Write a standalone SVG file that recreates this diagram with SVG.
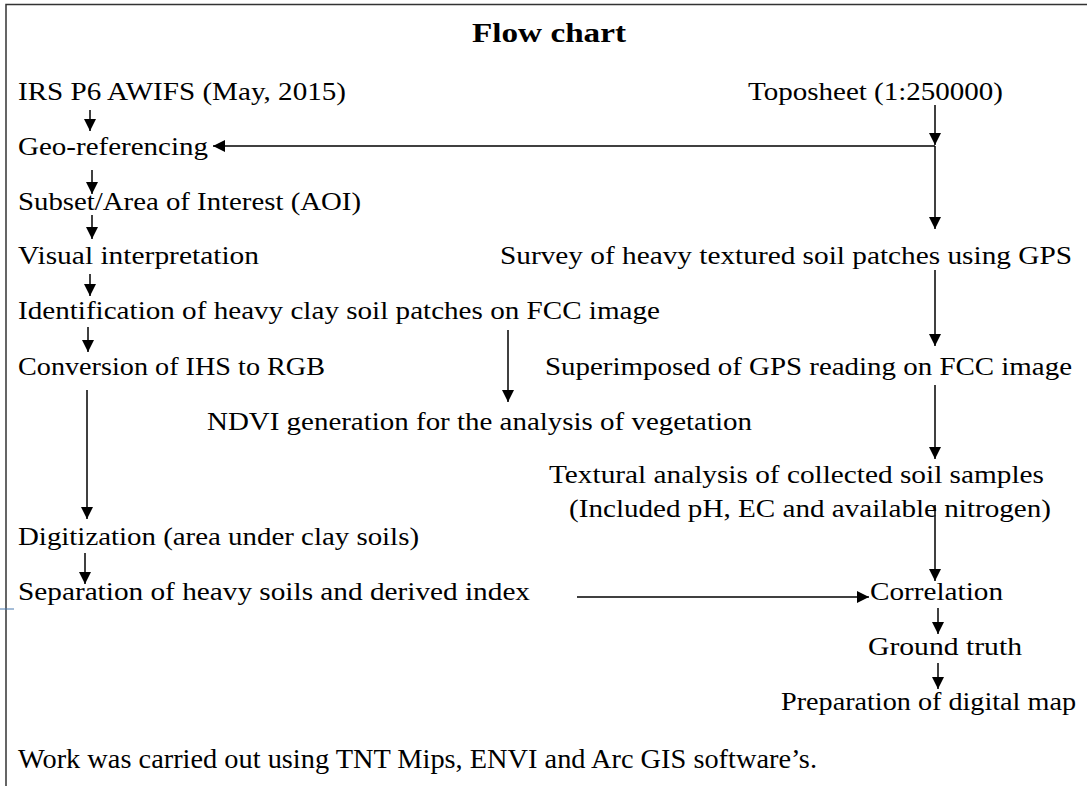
<svg xmlns="http://www.w3.org/2000/svg" width="1087" height="786" viewBox="0 0 1087 786">
<style>
.c{stroke:#000;stroke-width:1.5;fill:none}
</style>
<defs>
<marker id="ah" viewBox="0 0 12 12" refX="12" refY="6" markerWidth="13" markerHeight="12" markerUnits="userSpaceOnUse" orient="auto">
<path d="M0,0 L12,6 L0,12 Z" fill="#000"/>
</marker>
</defs>
<rect width="1087" height="786" fill="#fff"/>
<path d="M6,786 V4.5 H1087" stroke="#333" stroke-width="1.5" fill="none"/>
<path d="M0,609 H14" stroke="#4a7ab0" stroke-width="1"/>
<g font-family="'Liberation Serif', 'Times New Roman', serif" font-size="26" fill="#000">
<text x="549" y="42" text-anchor="middle" font-weight="bold" font-size="27" textLength="154" lengthAdjust="spacingAndGlyphs">Flow chart</text>
<g id="n-irs"><text x="18" y="100" textLength="328" lengthAdjust="spacingAndGlyphs">IRS P6 AWIFS (May, 2015)</text></g>
<g id="n-topo"><text x="748" y="100" textLength="255" lengthAdjust="spacingAndGlyphs">Toposheet (1:250000)</text></g>
<g id="n-geo"><text x="18" y="155" textLength="190" lengthAdjust="spacingAndGlyphs">Geo-referencing</text></g>
<g id="n-subset"><text x="18" y="210" textLength="343" lengthAdjust="spacingAndGlyphs">Subset/Area of Interest (AOI)</text></g>
<g id="n-visual"><text x="18" y="264" textLength="241" lengthAdjust="spacingAndGlyphs">Visual interpretation</text></g>
<g id="n-survey"><text x="500" y="264" textLength="572" lengthAdjust="spacingAndGlyphs">Survey of heavy textured soil patches using GPS</text></g>
<g id="n-ident"><text x="18" y="319" textLength="642" lengthAdjust="spacingAndGlyphs">Identification of heavy clay soil patches on FCC image</text></g>
<g id="n-conv"><text x="18" y="375" textLength="307" lengthAdjust="spacingAndGlyphs">Conversion of IHS to RGB</text></g>
<g id="n-super"><text x="545" y="375" textLength="527" lengthAdjust="spacingAndGlyphs">Superimposed of GPS reading on FCC image</text></g>
<g id="n-ndvi"><text x="207" y="430" textLength="545" lengthAdjust="spacingAndGlyphs">NDVI generation for the analysis of vegetation</text></g>
<g id="n-text"><text x="549" y="483" textLength="495" lengthAdjust="spacingAndGlyphs">Textural analysis of collected soil samples</text>
<text x="569" y="517" textLength="482" lengthAdjust="spacingAndGlyphs">(Included pH, EC and available nitrogen)</text></g>
<g id="n-digit"><text x="18" y="545" textLength="401" lengthAdjust="spacingAndGlyphs">Digitization (area under clay soils)</text></g>
<g id="n-sep"><text x="18" y="600" textLength="512" lengthAdjust="spacingAndGlyphs">Separation of heavy soils and derived index</text></g>
<g id="n-corr"><text x="870" y="600" textLength="133" lengthAdjust="spacingAndGlyphs">Correlation</text></g>
<g id="n-ground"><text x="868" y="655" textLength="154" lengthAdjust="spacingAndGlyphs">Ground truth</text></g>
<g id="n-prep"><text x="781" y="710" textLength="295" lengthAdjust="spacingAndGlyphs">Preparation of digital map</text></g>
<text x="18" y="768" font-size="27" textLength="799" lengthAdjust="spacingAndGlyphs">Work was carried out using TNT Mips, ENVI and Arc GIS software’s.</text>
</g>
<g id="connectors" class="c" marker-end="url(#ah)">
<path d="M90,110 V131"/>
<path d="M935,105 V145"/>
<path d="M935,146 V229"/>
<path d="M935,146 H213"/>
<path d="M92,170 V194"/>
<path d="M92,215 V239"/>
<path d="M90,274 V296"/>
<path d="M88,327 V352"/>
<path d="M508,330 V402"/>
<path d="M87,390 V519"/>
<path d="M935,270 V346"/>
<path d="M935,385 V459"/>
<path d="M935,505 V581"/>
<path d="M85,553 V584"/>
<path d="M577,597 H869"/>
<path d="M938,608 V634"/>
<path d="M938,663 V689"/>
</g>
</svg>
